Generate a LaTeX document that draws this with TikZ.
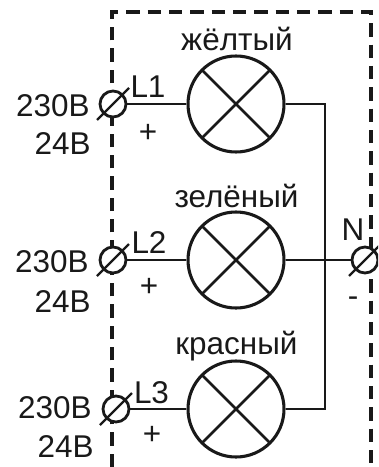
\documentclass[tikz,border=0pt]{standalone}
\usepackage{fontspec}
\usepackage{tikz}
\setmainfont{Liberation Sans}
\usetikzlibrary{positioning}

\begin{document}
\begin{tikzpicture}[
  x=0.75pt, y=-0.75pt,
  every node/.style={font=\fontsize{23.6}{25}\selectfont, text=black!90, inner sep=0pt},
  lamp/.style={circle, draw=black!90, line width=2.3pt, minimum size=72pt, path picture={
    \draw[line width=1.9pt, black!90] (path picture bounding box.north west) ++(10.5pt,-10.5pt) -- ++(51pt,-51pt);
    \draw[line width=1.9pt, black!90] (path picture bounding box.south west) ++(10.5pt,10.5pt) -- ++(51pt,51pt);
  }},
  terminal/.style={circle, draw=black!90, line width=2.1pt, fill=white, minimum size=19.5pt},
  wire/.style={draw=black!90, line width=2.1pt},
  slash/.style={draw=black!90, line width=1.7pt},
  enclosure/.style={draw=black!90, line width=2.6pt, dash pattern=on 10pt off 6pt}
]
\useasboundingbox (0,0) rectangle (378,467);

% enclosure
\begin{scope}
\clip (0,0) rectangle (378,467);
\draw[enclosure] (112,467) -- (112,12) -- (371,12) -- (371,467);

% lamps
\node[lamp] (yellow) at (236,104) {};
\node[lamp] (green) at (236,260) {};
\node[lamp] (red) at (236,409) {};

% terminals
\node[terminal] (t1) at (113,104) {};
\node[terminal] (t2) at (113,260) {};
\node[terminal] (t3) at (116,409) {};
\node[terminal] (tn) at (365,260) {};
\coordinate (bus) at (325,260);

\draw[wire] (t1) -- (yellow);
\draw[wire] (t2) -- (green);
\draw[wire] (t3) -- (red);
\draw[wire] (green) -- (tn);
\draw[wire] (yellow.east) -| (bus);
\draw[wire] (red.east) -| (bus);

\foreach \t in {t1,t2,t3,tn}
  \draw[slash] (\t.center) ++(-16,16) -- ++(32,-32);
\end{scope}

% labels
\node (lbl1) at (237,39) {жёлтый};
\node (lbl2) at (236.5,196) {зелёный};
\node (lbl3) at (236.5,346) {красный};
\node[anchor=base] (l1) at (148,97) {L1};
\node[anchor=base] (l2) at (149,253) {L2};
\node[anchor=base] (l3) at (151.5,403) {L3};
\node[anchor=base] (n) at (353,240) {N};
\node[anchor=base east] (v1) at (90,116) {230В};
\node[anchor=base east] (w1) at (91,154) {24В};
\node[anchor=base east] (v2) at (89,272) {230В};
\node[anchor=base east] (w2) at (91,312) {24В};
\node[anchor=base east] (v3) at (92,418) {230В};
\node[anchor=base east] (w3) at (94,457) {24В};
\node (p1) at (148,133) {+};
\node (p2) at (149,287) {+};
\node (p3) at (152,435) {+};
\node (m) at (353,302) {-};
\end{tikzpicture}
\end{document}
